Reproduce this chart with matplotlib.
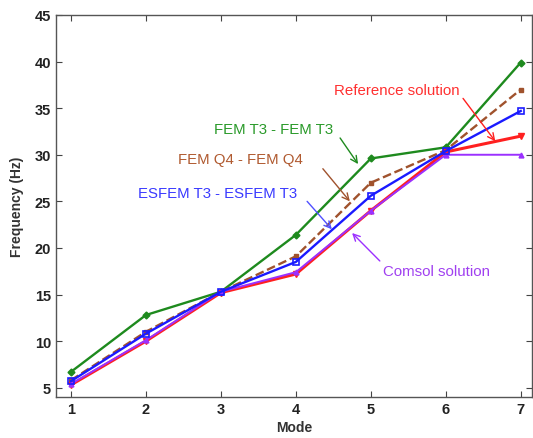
import matplotlib.pyplot as plt
import numpy as np

plt.rcParams['font.family'] = ['Liberation Sans', 'DejaVu Sans']

# Data
modes = [1, 2, 3, 4, 5, 6, 7]
fem_t3 = [6.7, 12.8, 15.3, 21.4, 29.6, 30.8, 39.9]
fem_q4 = [5.8, 11.0, 15.3, 19.1, 27.0, 30.5, 37.0]
esfem_t3 = [5.7, 10.8, 15.3, 18.5, 25.6, 30.4, 34.7]
reference = [5.3, 10.0, 15.2, 17.2, 24.0, 30.3, 32.0]
comsol = [5.4, 10.1, 15.3, 17.4, 24.0, 30.0, 30.0]

c_green = '#1e8a1e'
c_brown = '#a0522d'
c_blue = '#1a1aff'
c_red = '#ff2020'
c_purple = '#9b30ff'

fig = plt.figure(figsize=(5.33, 4.39), dpi=100)
ax = fig.add_axes([56 / 533, 41 / 439, 476 / 533, 382 / 439])

ax.plot(modes, fem_t3, color=c_green, lw=1.7, marker='D', ms=3.5)
ax.plot(modes, fem_q4, color=c_brown, lw=1.7, ls='--', marker='s', ms=3.5)
ax.plot(modes, reference, color=c_red, lw=2.2, marker='v', ms=4)
ax.plot(modes, comsol, color=c_purple, lw=1.4, marker='^', ms=3.5)
ax.plot(modes, esfem_t3, color=c_blue, lw=1.7, marker='s', ms=5, mfc='none', mew=1.2)

# Labels and arrows
notes = [
    ('FEM T3 - FEM T3', '#2a9a2a', (3.70, 32.8), (4.59, 31.8), (4.83, 29.0), c_green),
    ('FEM Q4 - FEM Q4', '#b05a30', (3.26, 29.5), (4.36, 28.5), (4.72, 25.0), c_brown),
    ('ESFEM T3 - ESFEM T3', '#3a3aff', (2.96, 25.85), (4.15, 25.0), (4.48, 22.0), '#5050ff'),
    ('Reference solution', '#ff3030', (5.35, 36.9), (6.23, 36.05), (6.66, 31.45), c_red),
    ('Comsol solution', '#a040f0', (5.88, 17.5), (5.12, 18.6), (4.75, 21.6), c_purple),
]
for txt, tc, pos, tail, head, ac in notes:
    ax.text(pos[0], pos[1], txt, color=tc, fontsize=10.8, ha='center', va='center')
    ax.annotate('', xy=head, xytext=tail,
                arrowprops=dict(arrowstyle='->', color=ac, lw=1.0,
                                shrinkA=0, shrinkB=0, mutation_scale=12))

ax.set_xlim(0.8, 7.15)
ax.set_ylim(4, 45)
ax.set_xticks(modes)
ax.set_yticks(np.arange(5, 46, 5))
ax.tick_params(direction='in', top=True, right=True, length=4,
               labelsize=10.5, labelcolor='#222222', color='#444444')
for lab in ax.get_xticklabels() + ax.get_yticklabels():
    lab.set_fontweight('bold')
for s in ax.spines.values():
    s.set_color('#555555')
    s.set_linewidth(1.0)

ax.set_xlabel('Mode', fontsize=10, fontweight='bold', color='#333333', labelpad=3)
ax.set_ylabel('Frequency (Hz)', fontsize=10, fontweight='bold', color='#333333', labelpad=8)

plt.savefig('out.png', dpi=100)
